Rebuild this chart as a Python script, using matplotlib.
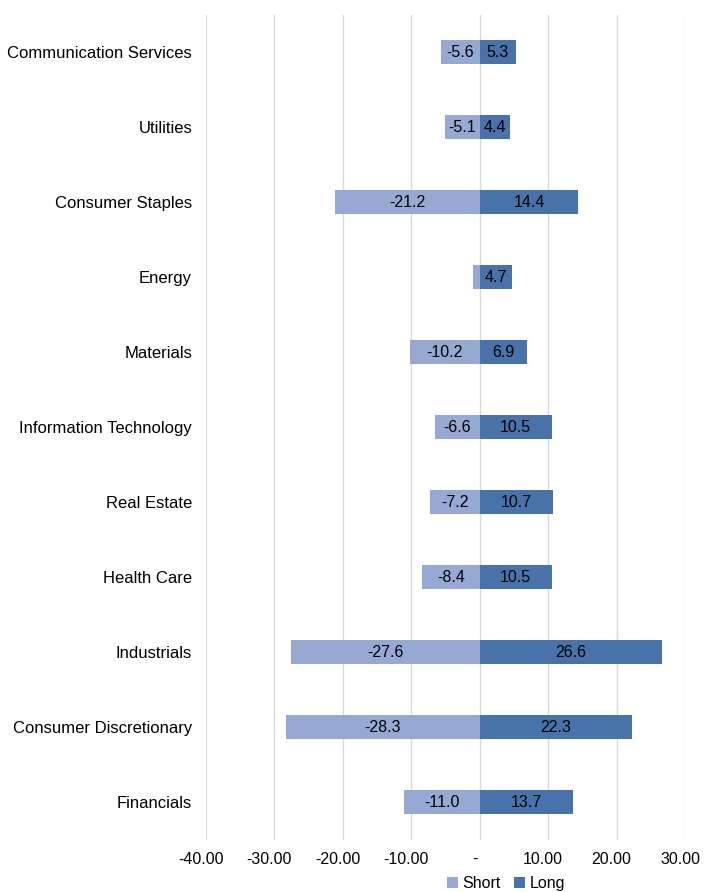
import matplotlib
matplotlib.use("Agg")
import matplotlib.pyplot as plt
import matplotlib.transforms as mtransforms
import numpy as np

plt.rcParams['font.family'] = ['Liberation Sans', 'DejaVu Sans']

# Sector exposures (top to bottom as shown)
sectors = ["Communication Services", "Utilities", "Consumer Staples", "Energy",
           "Materials", "Information Technology", "Real Estate", "Health Care",
           "Industrials", "Consumer Discretionary", "Financials"]
short_vals = [-5.6, -5.1, -21.2, -1.0, -10.2, -6.6, -7.2, -8.4, -27.6, -28.3, -11.0]
long_vals = [5.3, 4.4, 14.4, 4.7, 6.9, 10.5, 10.7, 10.5, 26.6, 22.3, 13.7]
# Energy's short label is hidden in the original
show_short = [True, True, True, False, True, True, True, True, True, True, True]

c_short = "#95A9D3"
c_long = "#4773AA"

fig = plt.figure(figsize=(7.13, 8.92), dpi=100)
ax = fig.add_axes([0.2889, 0.0588, 0.6718, 0.9249])

y = np.arange(len(sectors))
h = 0.32
ax.barh(y, short_vals, height=h, color=c_short, label="Short", zorder=3)
ax.barh(y, long_vals, height=h, color=c_long, label="Long", zorder=3)

for i in range(len(sectors)):
    if show_short[i]:
        ax.text(short_vals[i] / 2, y[i], "%.1f" % short_vals[i], ha="center",
                va="center", fontsize=11.5, color="black", zorder=4)
    ax.text(long_vals[i] / 2, y[i], "%.1f" % long_vals[i], ha="center",
            va="center", fontsize=11.5, color="black", zorder=4)

ax.set_ylim(len(sectors) - 0.5, -0.5)
ax.set_xlim(-40, 30)
ax.set_yticks(y)
ax.set_yticklabels(sectors, fontsize=12)
xt = [-40, -30, -20, -10, 0, 10, 20, 30]
ax.set_xticks(xt)
ax.set_xticklabels(["%.2f" % v if v != 0 else "-" for v in xt], fontsize=11.5)
ax.tick_params(axis="y", length=0, pad=10)
ax.tick_params(axis="x", length=0, pad=9)
# Excel puts the value labels a few pixels left of the gridlines
shift = mtransforms.ScaledTranslation(-5 / 100, 0, fig.dpi_scale_trans)
for lab in ax.get_xticklabels():
    lab.set_transform(lab.get_transform() + shift)
ax.grid(axis="x", color="#D9D9D9", linewidth=1, zorder=0)
for s in ax.spines.values():
    s.set_visible(False)

ax.legend(loc="upper center", bbox_to_anchor=(0.626, -0.033), ncol=2, frameon=False,
          fontsize=11.5, handlelength=0.7, handleheight=0.7, handletextpad=0.3,
          columnspacing=0.8, borderpad=0.1)

fig.savefig("out.png", dpi=100)
